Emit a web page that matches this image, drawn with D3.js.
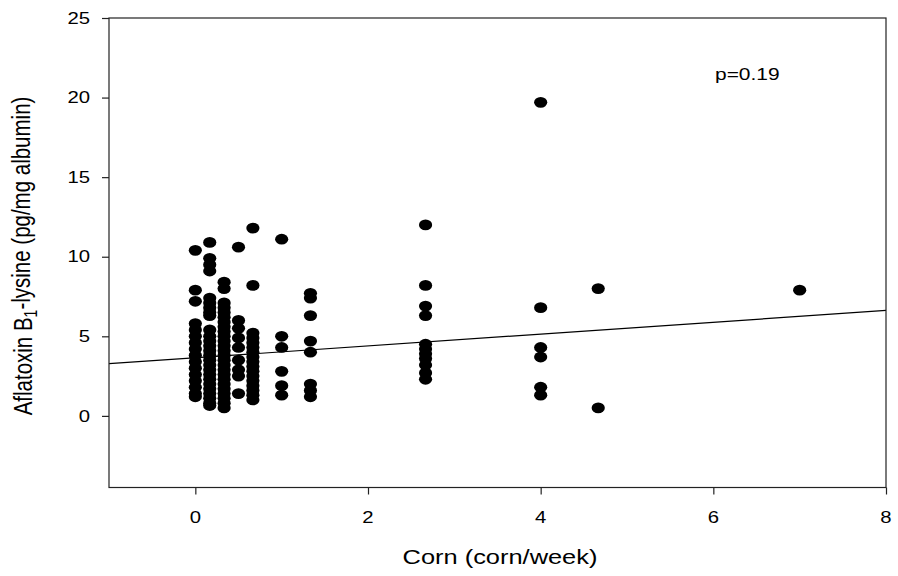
<!DOCTYPE html>
<html>
<head>
<meta charset="utf-8">
<script src="https://cdn.jsdelivr.net/npm/d3@7"></script>
<style>
  body { margin: 0; background: #fff; }
  text { font-family: "Liberation Sans", Arial, sans-serif; fill: #000; }
</style>
</head>
<body>
<script>
// ---- data ----
const corn = [0, 1/6, 1/3, 0.5, 2/3, 1, 4/3, 8/3, 4, 14/3, 7];
const col0 = [10.4, 7.9, 7.2, 5.8, 5.4, 5.0, 4.6, 4.2, 3.8, 3.4, 3.0, 2.6, 2.2, 1.8, 1.4, 1.2];
const col1 = [10.9, 9.9, 9.5, 9.1, 7.4, 7.1, 6.8, 6.5, 6.3, 5.4, 5.0, 4.7, 4.4, 4.1, 3.8, 3.5, 3.2, 2.9, 2.6, 2.3, 2.0, 1.7, 1.4, 1.1, 0.8, 0.65];
const col2 = [8.4, 8.0, 7.1, 6.8, 6.5, 6.2, 5.9, 5.6, 5.3, 5.0, 4.7, 4.4, 4.1, 3.8, 3.5, 3.2, 2.9, 2.6, 2.3, 2.0, 1.7, 1.4, 1.1, 0.8, 0.5];
const col3 = [10.6, 6.0, 5.5, 4.9, 4.3, 3.5, 2.9, 2.5, 1.4];
const col4 = [11.8, 8.2, 5.2, 4.9, 4.6, 4.3, 4.0, 3.7, 3.4, 3.1, 2.8, 2.5, 2.2, 1.9, 1.6, 1.3, 1.0];
const col5 = [11.1, 5.0, 4.3, 2.8, 1.9, 1.3];
const col6 = [7.7, 7.4, 6.3, 4.7, 4.0, 2.0, 1.6, 1.2];
const col7 = [12.0, 8.2, 6.9, 6.3, 4.5, 4.2, 3.9, 3.6, 3.2, 2.7, 2.3];
const col8 = [19.7, 6.8, 4.3, 3.7, 1.8, 1.3];
const col9 = [8.0, 0.5];
const col10 = [7.9];
const adducts = [col0, col1, col2, col3, col4, col5, col6, col7, col8, col9, col10];

const fitIntercept = 3.65;
const fitSlope = 0.372;
const xTicks = [0, 2, 4, 6, 8];
const yTicks = [0, 5, 10, 15, 20, 25];
const xTitle = "Corn (corn/week)";
const pText = "p=0.19";

const points = [];
corn.forEach((c, i) => adducts[i].forEach(v => points.push({x: c, y: v})));

// ---- chart ----
const W = 898, H = 576;
const sx = 1.27; // horizontal stretch of the original picture
const x = d3.scaleLinear().domain([-1, 8]).range([109, 886]);
const y = d3.scaleLinear().domain([-4.5, 25]).range([487.5, 18]);

const svg = d3.select("body").append("svg").attr("width", W).attr("height", H);

// points
svg.append("g").selectAll("ellipse").data(points).join("ellipse")
  .attr("cx", d => x(d.x)).attr("cy", d => y(d.y))
  .attr("rx", 6.6).attr("ry", 5.4).attr("fill", "#000");

// regression line
svg.append("line")
  .attr("x1", x(-1)).attr("y1", y(fitIntercept + fitSlope * -1))
  .attr("x2", x(8)).attr("y2", y(fitIntercept + fitSlope * 8))
  .attr("stroke", "#000").attr("stroke-width", 1.2);

// frame
svg.append("rect")
  .attr("x", x(-1)).attr("y", y(25))
  .attr("width", x(8) - x(-1)).attr("height", y(-4.5) - y(25))
  .attr("fill", "none").attr("stroke", "#222").attr("stroke-width", 1.2);

// axes ticks
const ya = svg.append("g").attr("transform", `translate(${x(-1)},0)`)
  .call(d3.axisLeft(y).tickValues(yTicks).tickSize(7).tickFormat(""));
ya.select(".domain").remove();
ya.selectAll("line").attr("stroke", "#222").attr("stroke-width", 1.2);

const xa = svg.append("g").attr("transform", `translate(0,${y(-4.5)})`)
  .call(d3.axisBottom(x).tickValues(xTicks).tickSize(7).tickFormat(""));
xa.select(".domain").remove();
xa.selectAll("line").attr("stroke", "#222").attr("stroke-width", 1.2);

// tick labels
svg.append("g").selectAll("text").data(yTicks).join("text")
  .attr("transform", d => `translate(90,${y(d)}) scale(${sx},1)`)
  .attr("text-anchor", "end").attr("dy", "0.36em")
  .style("font-size", "16px").text(d => d);

svg.append("g").selectAll("text").data(xTicks).join("text")
  .attr("transform", d => `translate(${x(d)},523) scale(${sx},1)`)
  .attr("text-anchor", "middle")
  .style("font-size", "16px").text(d => d);

// axis titles
svg.append("text")
  .attr("transform", `translate(500,564) scale(${sx},1)`)
  .attr("text-anchor", "middle").style("font-size", "20px").text(xTitle);

const yt = svg.append("text")
  .attr("transform", `translate(32,256) scale(${sx},1) rotate(-90)`)
  .attr("text-anchor", "middle").style("font-size", "20.5px");
yt.append("tspan").text("Aflatoxin B");
yt.append("tspan").attr("dy", "0.3em").style("font-size", "14px").text("1");
yt.append("tspan").attr("dy", "-0.3em").text("-lysine (pg/mg albumin)");

// p value
svg.append("text")
  .attr("transform", `translate(715,80) scale(${sx},1)`)
  .style("font-size", "16.5px").text(pText);
</script>
</body>
</html>
